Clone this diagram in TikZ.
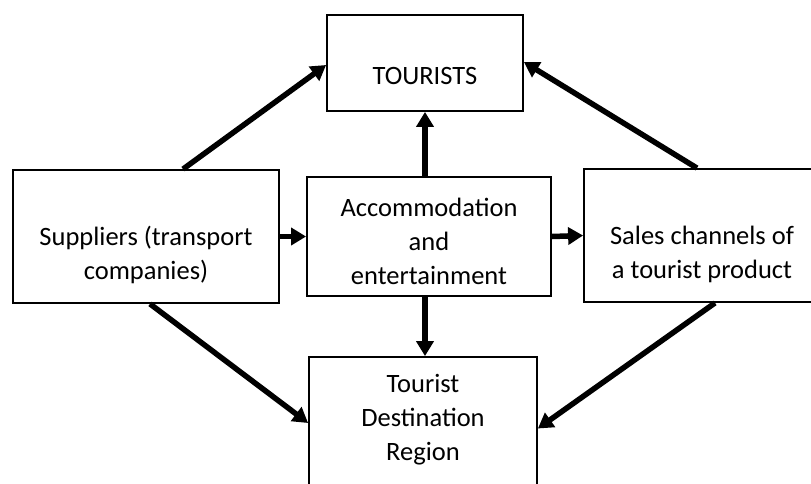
\documentclass[tikz,border=0pt]{standalone}
\usepackage{fontspec}
\setmainfont{Carlito}
\usetikzlibrary{arrows.meta}
\begin{document}
\begin{tikzpicture}[x=1pt,y=-1pt,
  box/.style={draw, line width=1.8pt, inner sep=0pt},
  lbl/.style={font=\fontsize{26.5}{34}\selectfont, align=center, inner sep=0pt},
  arr/.style={line width=5.5pt, -{Triangle[length=15pt,width=17pt]}}]
\clip (0,0) rectangle (811,483);
\fill[white] (0,0) rectangle (811,483);
% boxes
\node[box, minimum width=196pt, minimum height=96pt] (tour) at (425,63) {};
\node[lbl] (tourT) at (425,76) {TOURISTS};
\node[box, minimum width=266pt, minimum height=133pt] (sup) at (146,236.5) {};
\node[lbl] (supT) at (146,255) {Suppliers (transport\\companies)};
\node[box, minimum width=244pt, minimum height=119pt] (acc) at (429,236.5) {};
\node[lbl] (accT) at (429,241) {Accommodation\\and\\entertainment};
\node[box, minimum width=236pt, minimum height=133pt] (sal) at (702,235.5) {};
\node[lbl] (salT) at (702,254) {Sales channels of\\a tourist product};
\node[box, minimum width=228pt, minimum height=143pt] (tdr) at (423,428.5) {};
\node[lbl] (tdrT) at (423,420) {Tourist\\Destination\\Region};
% connectors
\draw[arr] ([xshift=37pt]sup.north) -- ([yshift=-2pt]tour.west);
\draw[arr] ([xshift=-5pt]sal.north) -- ([yshift=1pt]tour.east);
\draw[arr] (acc.north -| tour.south) -- (tour.south);
\draw[arr] (sup.east) -- (acc.west);
\draw[arr] (acc.east) -- (sal.west);
\draw[arr] (acc.south -| tour.south) -- (tdr.north -| tour.south);
\draw[arr] ([xshift=4pt]sup.south) -- ([yshift=5.5pt]tdr.west);
\draw[arr] ([xshift=13pt]sal.south) -- (tdr.east);
\end{tikzpicture}
\end{document}
